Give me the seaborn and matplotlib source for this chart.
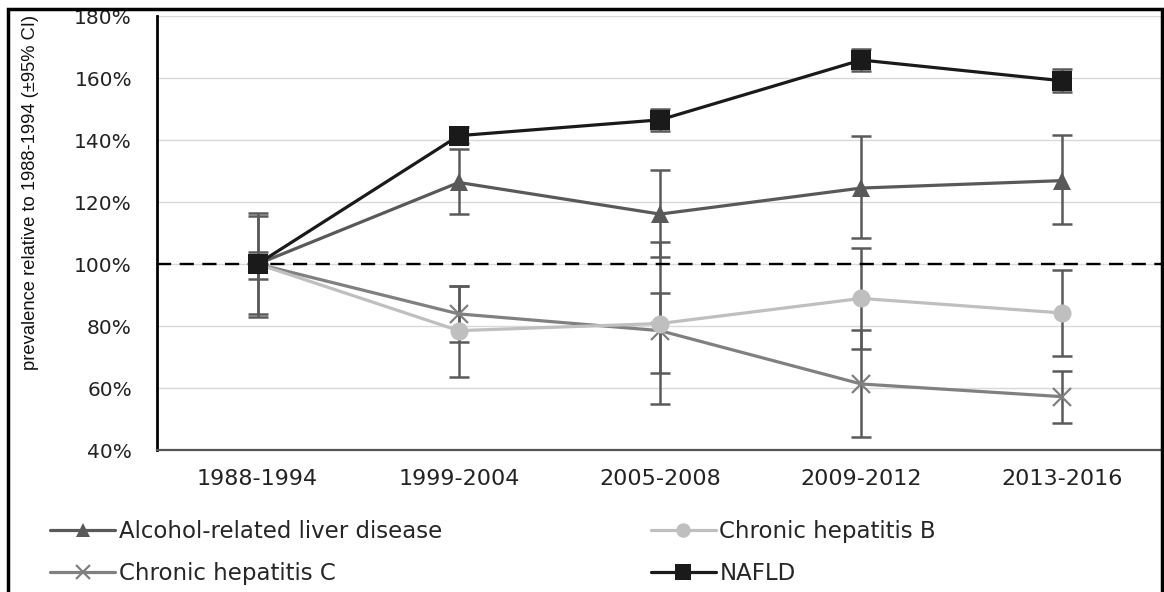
import matplotlib
matplotlib.use('Agg')
import matplotlib.pyplot as plt
from matplotlib.patches import Rectangle
import seaborn as sns
import numpy as np
import pandas as pd

periods = ['1988-1994', '1999-2004', '2005-2008', '2009-2012', '2013-2016']
series_names = ['Alcohol-related liver disease', 'Chronic hepatitis C',
                'Chronic hepatitis B', 'NAFLD']

# values in % relative to 1988-1994, with 95% CI bounds
ald = [100, 126.3, 116.1, 124.5, 126.9]
ald_lo = [82.8, 116.1, 102.1, 108.4, 112.9]
ald_hi = [116.6, 137.1, 130.3, 141.4, 141.6]

hcv = [100, 83.9, 78.5, 61.3, 57.2]
hcv_lo = [83.9, 75.0, 64.8, 44.1, 48.6]
hcv_hi = [115.6, 93.0, 90.6, 78.7, 65.6]

hbv = [100, 78.5, 80.8, 88.9, 84.2]
hbv_lo = [95.2, 63.6, 55.0, 72.6, 70.2]
hbv_hi = [104.0, 93.0, 107.0, 105.2, 98.2]

nafld = [100, 141.4, 146.5, 165.8, 159.1]
nafld_lo = [100, 138.9, 143.0, 162.4, 155.6]
nafld_hi = [100, 144.1, 150.0, 169.4, 162.9]

y_ticks = [40, 60, 80, 100, 120, 140, 160, 180]
y_ticklabels = ['40%', '60%', '80%', '100%', '120%', '140%', '160%', '180%']

styles = {
    'Alcohol-related liver disease': dict(color='#595959', marker='^', ms=13, lw=2.3),
    'Chronic hepatitis C': dict(color='#808080', marker='x', ms=13, lw=2.3),
    'Chronic hepatitis B': dict(color='#bfbfbf', marker='o', ms=13, lw=2.3),
    'NAFLD': dict(color='#1a1a1a', marker='s', ms=14, lw=2.3),
}

values = {
    'Alcohol-related liver disease': (ald, ald_lo, ald_hi),
    'Chronic hepatitis C': (hcv, hcv_lo, hcv_hi),
    'Chronic hepatitis B': (hbv, hbv_lo, hbv_hi),
    'NAFLD': (nafld, nafld_lo, nafld_hi),
}

sns.set_style('white')
plt.rcParams['font.family'] = ['DejaVu Sans']

fig = plt.figure(figsize=(11.64, 5.92), dpi=100)
ax = fig.add_axes([157 / 1164, 1 - 450 / 592, 1006 / 1164, 434 / 592])

ax.axhline(100, color='black', ls=(0, (6, 3.6)), lw=1.7, zorder=1.8)

for name in series_names:
    y, lo, hi = values[name]
    st = styles[name]
    df = pd.DataFrame({'period': periods, 'value': y})
    y = np.array(y)
    ax.errorbar(np.arange(len(periods)), y, yerr=[y - np.array(lo), np.array(hi) - y],
                fmt='none', ecolor='#5a5a5a', elinewidth=1.8, capsize=7, capthick=1.8,
                zorder=1.5)
    mew = 1.6 if st['marker'] == 'x' else 0
    sns.lineplot(data=df, x='period', y='value', ax=ax, color=st['color'],
                 marker=st['marker'], markersize=st['ms'], linewidth=st['lw'],
                 markeredgewidth=mew, markeredgecolor=st['color'],
                 label=name, sort=False, zorder=3)

ax.set_xlim(-0.5, 4.5)
ax.set_ylim(40, 180)
ax.set_yticks(y_ticks)
ax.set_yticklabels(y_ticklabels)
ax.grid(axis='y', color='#d9d9d9', lw=1)
ax.grid(axis='x', visible=False)
ax.tick_params(axis='y', length=0, pad=18, labelsize=14.5, labelcolor='#222222')
ax.tick_params(axis='x', length=0, pad=14, labelsize=16, labelcolor='#222222')
ax.set_xlabel('')
for s in ['top', 'right']:
    ax.spines[s].set_visible(False)
ax.spines['left'].set_color('black')
ax.spines['left'].set_linewidth(2)
ax.spines['bottom'].set_color('#555555')
ax.spines['bottom'].set_linewidth(1.6)

ax.set_ylabel('prevalence relative to 1988-1994 (±95% CI)', fontsize=13.2,
              family=['Liberation Sans', 'DejaVu Sans'], color='#111111')
ax.yaxis.set_label_coords(-0.117, 0.594)

handles, labels = ax.get_legend_handles_labels()
ax.get_legend().remove()
fig.legend(handles, labels, ncol=2, loc='upper left',
           bbox_to_anchor=(50 / 1164, 1 - 520 / 592), frameon=False,
           fontsize=16.5, handlelength=2.85, handletextpad=0.15, markerscale=0.8,
           columnspacing=9.1, labelspacing=0.85, borderpad=0, borderaxespad=0)

fig.patches.append(Rectangle((8 / 1164, -0.1), 1154 / 1164, 1.1 - 9 / 592,
                             transform=fig.transFigure, fill=False,
                             edgecolor='black', lw=2.5))

fig.savefig('out.png', dpi=100)
